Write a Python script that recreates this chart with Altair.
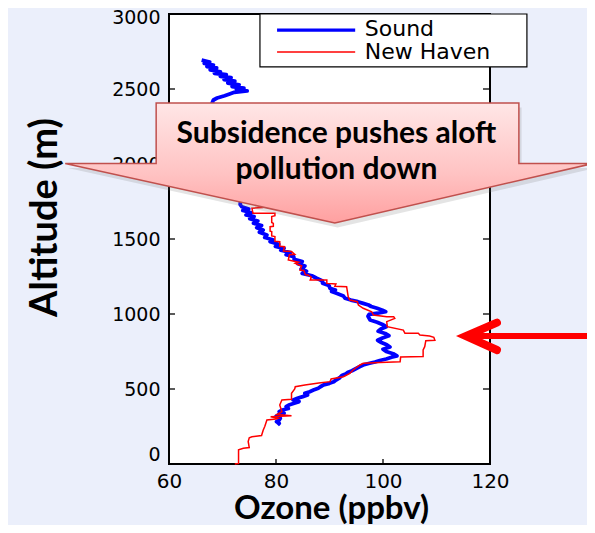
import altair as alt
import pandas as pd

# ---------------- data ----------------
# Sound (blue) profile, top to bottom
sound_alt = [
    2693, 2680, 2670, 2660, 2650, 2640, 2628, 2615, 2605, 2595,
    2585, 2575, 2563, 2552, 2540, 2528, 2516, 2505, 2495, 2487,
    2478, 2465, 2455, 2440, 2427, 2400, 2350, 2300, 2250, 2200,
    2150, 2100, 2050, 2000, 1950, 1900, 1850, 1800, 1760, 1730,
    1715, 1700, 1690, 1675, 1660, 1649, 1635, 1620, 1605, 1590,
    1575, 1560, 1545, 1527, 1510, 1495, 1482, 1465, 1450, 1438,
    1425, 1410, 1395, 1382, 1365, 1350, 1335, 1320, 1300, 1285,
    1271, 1255, 1238, 1220, 1205, 1190, 1171, 1160, 1150, 1138,
    1120, 1105, 1093, 1082, 1071, 1060, 1050, 1038, 1025, 1015,
    1005, 998, 985, 960, 945, 930, 915, 900, 885, 870,
    855, 840, 825, 810, 795, 780, 765, 750, 735, 720,
    712, 700, 690, 680, 670, 660, 648, 635, 622, 612,
    600, 590, 575, 560, 548, 538, 527, 515, 505, 493,
    482, 471, 460, 449, 438, 427, 416, 405, 393, 382,
    370, 360, 349, 338, 327, 316, 305, 293, 282, 271,
    260]
sound_o3 = [
    66.1, 67.6, 66.6, 68.3, 67.1, 68.9, 67.7, 69.6, 68.5, 70.7,
    69.6, 71.6, 70.3, 72.3, 71.0, 73.1, 71.8, 74.0, 72.6, 74.6,
    72.2, 71.2, 70.4, 69.0, 68.3, 68.0, 68.6, 69.2, 69.8, 70.3,
    70.9, 71.4, 72.0, 72.4, 72.8, 73.1, 73.3, 73.5, 73.4, 73.3,
    73.6, 74.9, 73.8, 75.4, 74.4, 75.9, 75.1, 76.6, 75.8, 77.3,
    76.4, 77.6, 76.9, 78.3, 77.9, 79.4, 78.9, 80.5, 79.9, 81.5,
    80.9, 82.7, 81.9, 83.3, 83.4, 84.9, 84.1, 85.4, 84.7, 85.7,
    84.9, 86.7, 87.6, 88.7, 88.7, 89.9, 90.1, 91.1, 90.4, 91.3,
    92.6, 92.9, 94.0, 95.3, 96.3, 97.3, 97.8, 98.9, 99.9, 100.5,
    99.0, 97.4, 97.2, 97.6, 98.9, 99.9, 100.6, 99.6, 99.1, 100.4,
    101.1, 99.9, 99.0, 99.7, 100.7, 101.3, 100.0, 100.6, 101.9, 102.6,
    101.6, 100.6, 99.4, 98.5, 97.3, 96.3, 95.6, 94.9, 94.2, 93.5,
    93.0, 92.3, 91.9, 91.2, 90.8, 90.0, 88.9, 88.3, 87.9, 87.0,
    86.3, 85.4, 85.9, 85.0, 84.0, 83.2, 84.3, 83.4, 82.4, 81.9,
    82.3, 81.2, 80.6, 81.5, 80.4, 80.0, 80.8, 80.6, 80.1, 80.6,
    80.3]

# New Haven (red) profile, ground upward
nh_o3 = [
    72.3, 73.0, 73.0, 73.9, 75.0, 74.8, 75.0, 75.5, 77.3, 77.6,
    77.9, 78.3, 80.0, 80.4, 79.0, 82.9, 80.2, 81.1, 80.7, 81.1,
    82.9, 82.9, 83.5, 83.6, 85.4, 88.0, 90.1, 90.3, 92.6, 93.8,
    94.4, 95.7, 96.3, 99.4, 103.2, 103.3, 107.5, 107.5, 107.8, 108.0,
    109.7, 109.5, 108.7, 106.9, 106.6, 104.1, 103.8, 100.8, 100.7, 102.2,
    102.0, 100.7, 98.2, 97.9, 96.3, 95.4, 95.2, 93.8, 93.5, 93.2,
    91.0, 91.2, 89.5, 89.5, 86.4, 86.6, 86.0, 85.5, 85.2, 84.5,
    84.8, 83.6, 84.2, 82.3, 82.5, 83.5, 82.9, 81.4, 81.6, 80.7,
    80.7, 79.8, 79.8, 79.2, 79.2, 78.9, 78.9, 79.5, 79.5, 79.2,
    79.2, 79.8, 79.8, 75.7, 75.5, 77.4, 76.5, 75.5, 74.5, 74.0]
nh_alt = [
    0, 4, 95, 105, 110, 150, 175, 182, 190, 225,
    250, 293, 300, 305, 315, 322, 330, 349, 393, 427,
    431, 471, 500, 515, 527, 540, 549, 567, 582, 604,
    627, 660, 671, 676, 682, 713, 716, 760, 782, 822,
    825, 845, 853, 860, 871, 871, 893, 915, 949, 971,
    982, 982, 993, 1015, 1038, 1060, 1082, 1093, 1115, 1182,
    1185, 1200, 1204, 1227, 1227, 1245, 1260, 1262, 1290, 1293,
    1320, 1338, 1345, 1360, 1395, 1398, 1416, 1420, 1449, 1452,
    1482, 1485, 1516, 1520, 1549, 1552, 1582, 1585, 1604, 1610,
    1649, 1655, 1671, 1671, 1705, 1710, 1760, 1800, 1850, 1900]

series_names = ["Sound", "New Haven"]
series_colors = ["#0000FF", "#FF0000"]
series_widths = [3.2, 1.5]

x_ticks = [60, 80, 100, 120]
y_ticks = [0, 500, 1000, 1500, 2000, 2500, 3000]

# legend box placed in data units
legend_box_o3 = [77.0, 126.9]
legend_box_alt = [2647, 3000]
legend_line_o3 = [80.2, 94.8]
legend_line_alt = [2893, 2747]
legend_text_o3 = [96.6, 96.6]
legend_text_alt = [2855, 2700]

# callout (down-arrow shape) in data units
callout_alt = [1607, 2003, 2003.5, 2407]
callout_left = [91.0, 40.6, 57.6, 57.6]
callout_right = [91.0, 139.2, 125.4, 125.4]
callout_text = ["Subsidence pushes aloft", "pollution down"]
callout_text_o3 = [91.3, 91.3]
callout_text_alt = [2140, 1900]

# red pointer arrow
arrow_head_o3 = [121.3, 115.5, 121.3]
arrow_head_alt = [942, 853, 760]
arrow_shaft_o3 = [117.0, 142.0]
arrow_shaft_alt = [853]

# ---------------- tables ----------------
sound_df = pd.DataFrame({"o3": sound_o3, "alt": sound_alt, "series": "Sound",
                         "i": list(range(len(sound_o3)))})
nh_df = pd.DataFrame({"o3": nh_o3, "alt": nh_alt, "series": "New Haven",
                      "i": list(range(len(nh_o3)))})
xt_df = pd.DataFrame({"v": x_ticks})
yt_df = pd.DataFrame({"v": y_ticks})
lbox_df = pd.DataFrame({"x": [legend_box_o3[0]], "x2": [legend_box_o3[1]],
                        "y": [legend_box_alt[0]], "y2": [legend_box_alt[1]]})
lline_df = pd.DataFrame({"series": series_names, "x": [legend_line_o3[0]] * 2,
                         "x2": [legend_line_o3[1]] * 2, "y": legend_line_alt})
ltext_df = pd.DataFrame({"series": series_names, "x": legend_text_o3, "y": legend_text_alt})
call_df = pd.DataFrame({"alt": callout_alt, "left": callout_left, "right": callout_right})
ctext_df = pd.DataFrame({"t": callout_text, "x": callout_text_o3, "y": callout_text_alt})
head_df = pd.DataFrame({"x": arrow_head_o3, "y": arrow_head_alt, "i": [0, 1, 2]})
shaft_df = pd.DataFrame({"x": [arrow_shaft_o3[0]], "x2": [arrow_shaft_o3[1]], "y": arrow_shaft_alt})

# ---------------- scales / axes ----------------
xs = alt.Scale(domain=[60, 120], nice=False, zero=False)
ys = alt.Scale(domain=[0, 3000], nice=False, zero=False)
cscale = alt.Scale(domain=series_names, range=series_colors)
wscale = alt.Scale(domain=series_names, range=series_widths)

x_axis = alt.Axis(values=x_ticks, format="d", ticks=False, domain=False, grid=False,
                  labelFlush=False, labelOverlap=False, labelPadding=7,
                  labelFont="DejaVu Sans", labelFontSize=20, labelColor="black",
                  titleFont="Lato", titleFontSize=33, titleFontWeight="bold",
                  titleColor="black", titleX=162, titleY=54,
                  titleBaseline="alphabetic", titleAlign="center")
y_axis = alt.Axis(values=y_ticks, format="d", ticks=False, domain=False, grid=False,
                  labelFlush=False, labelOverlap=False, labelPadding=9,
                  labelBaseline={"condition": {"test": "datum.value === 0", "value": "bottom"},
                                 "value": "middle"},
                  labelOffset={"condition": {"test": "datum.value === 3000", "value": 3},
                               "value": 0},
                  labelFont="DejaVu Sans", labelFontSize=19, labelColor="black",
                  titleFont="Lato", titleFontSize=38, titleFontWeight="bold",
                  titleColor="black", titleAngle=270, titleX=-113, titleY=203,
                  titleBaseline="alphabetic", titleAlign="center")


def X(f, **kw):
    return alt.X(f, type="quantitative", scale=xs, axis=x_axis, title="Ozone (ppbv)", **kw)


def Y(f, **kw):
    return alt.Y(f, type="quantitative", scale=ys, axis=y_axis, title="Altitude (m)", **kw)


# ---------------- layers ----------------
blue = alt.Chart(sound_df).mark_line(strokeWidth=3.8, strokeJoin="round").encode(
    x=X("o3"), y=Y("alt"), order="i:Q",
    color=alt.Color("series:N", scale=cscale, legend=None))
red = alt.Chart(nh_df).mark_line(strokeWidth=1.5, strokeJoin="miter").encode(
    x=X("o3"), y=Y("alt"), order="i:Q",
    color=alt.Color("series:N", scale=cscale, legend=None))

tick_b = alt.Chart(xt_df).mark_rule(color="black", strokeWidth=1.3).encode(
    x=X("v"), y=alt.value(450), y2=alt.value(445))
tick_t = alt.Chart(xt_df).mark_rule(color="black", strokeWidth=1.3).encode(
    x=X("v"), y=alt.value(0), y2=alt.value(5))
tick_l = alt.Chart(yt_df).mark_rule(color="black", strokeWidth=1.3).encode(
    y=Y("v"), x=alt.value(0), x2=alt.value(6))
tick_r = alt.Chart(yt_df).mark_rule(color="black", strokeWidth=1.3).encode(
    y=Y("v"), x=alt.value(321), x2=alt.value(314))

lbox = alt.Chart(lbox_df).mark_rect(fill="white", stroke="black", strokeWidth=1.2).encode(
    x=X("x"), x2="x2", y=Y("y"), y2="y2")
llines = alt.Chart(lline_df).mark_rule().encode(
    x=X("x"), x2="x2", y=Y("y"),
    color=alt.Color("series:N", scale=cscale, legend=None),
    strokeWidth=alt.StrokeWidth("series:N", scale=wscale, legend=None))
ltext = alt.Chart(ltext_df).mark_text(align="left", baseline="alphabetic",
                                      font="DejaVu Sans", fontSize=22, color="black").encode(
    x=X("x"), y=Y("y"), text="series:N")

shadow = alt.Chart(call_df).transform_calculate(
    sa="datum.alt - 30", sl="datum.left + 0.5", sr="datum.right + 0.5"
).mark_area(orient="horizontal", color="#7a7a7a", opacity=0.2).encode(
    y=Y("sa:Q"), x=X("sl:Q", stack=None), x2="sr:Q")
callout = alt.Chart(call_df).mark_area(
    orient="horizontal",
    fill=alt.Gradient(gradient="linear", x1=0, y1=0, x2=0, y2=1,
                      stops=[alt.GradientStop(color="#FFE6E6", offset=0),
                             alt.GradientStop(color="#FFC2C2", offset=0.6),
                             alt.GradientStop(color="#FFA0A0", offset=1)]),
    stroke="#C0504D", strokeWidth=1.5, opacity=1).encode(
    y=Y("alt"), x=X("left", stack=None), x2="right")
ctext = alt.Chart(ctext_df).mark_text(font="Lato", fontWeight="bold", fontSize=30,
                                      color="black", align="center",
                                      baseline="alphabetic").encode(
    x=X("x"), y=Y("y"), text="t:N")

shaft = alt.Chart(shaft_df).mark_rule(color="#FF0000", strokeWidth=6).encode(
    x=X("x"), x2="x2", y=Y("y"))
head = alt.Chart(head_df).mark_line(color="#FF0000", strokeWidth=8, strokeCap="round",
                                    strokeJoin="miter").encode(
    x=X("x"), y=Y("y"), order="i:Q")

chart = alt.layer(
    blue, red, tick_b, tick_t, tick_l, tick_r, lbox, llines, ltext,
    shadow, callout, ctext, shaft, head
).properties(
    width=321, height=450,
    autosize=alt.AutoSizeParams(type="none"),
    padding={"left": 161, "top": 6, "right": 97, "bottom": 61},
).configure(
    background="#EBEFFB"
).configure_view(
    stroke="black", strokeWidth=2, fill="white"
)

chart.save("out.html", embed_options={"renderer": "svg", "actions": False})
